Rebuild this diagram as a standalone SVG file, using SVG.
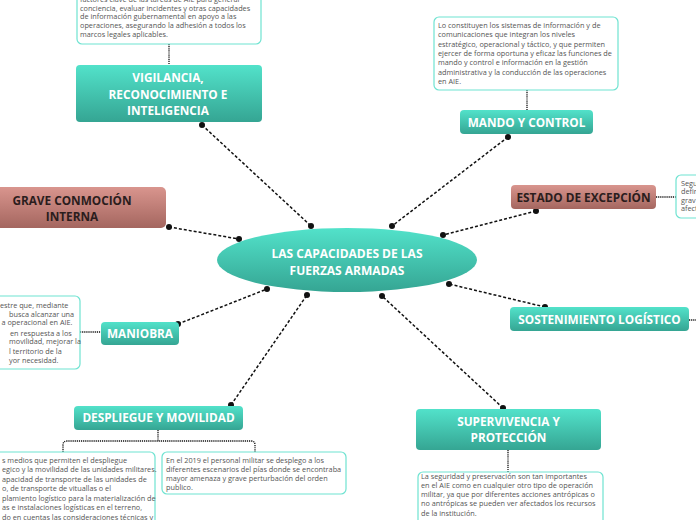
<svg xmlns="http://www.w3.org/2000/svg" width="696" height="520" viewBox="0 0 696 520">
<defs>
<linearGradient id="teal" x1="0" y1="0" x2="0" y2="1"><stop offset="0" stop-color="#52e2ca"/><stop offset="1" stop-color="#35a593"/></linearGradient>
<linearGradient id="red" x1="0" y1="0" x2="0" y2="1"><stop offset="0" stop-color="#d9958e"/><stop offset="1" stop-color="#a4665f"/></linearGradient>
</defs>
<style>
.t{fill:url(#teal)}
.r{fill:url(#red)}
.h{font-family:"Open Sans","Noto Sans",sans-serif;font-weight:bold;font-size:11.8px;fill:#fff;text-anchor:middle}
.hc{font-size:12px}
.hd{font-family:"Open Sans","Noto Sans",sans-serif;font-weight:bold;font-size:11.8px;fill:#2b1d1d;text-anchor:middle}
.box{fill:#fff;stroke:#6fe3d1;stroke-width:1.2}
.s{font-family:"Open Sans","Noto Sans",sans-serif;font-size:7.3px;fill:#555}
.c{fill:none;stroke:#111;stroke-width:1.5;stroke-dasharray:3 2}
.d{fill:none;stroke:#111;stroke-width:1.3;stroke-dasharray:1.2 0.9}
.dot{fill:#111}
</style>
<g id="connectors">
<path class="c" d="M202,125 L311,226"/>
<path class="c" d="M508,137 L392,226"/>
<path class="c" d="M536,211 L443,235"/>
<path class="c" d="M169,227 L239,239"/>
<path class="c" d="M178,324 L267,289"/>
<path class="c" d="M231,405 L307,295"/>
<path class="c" d="M503,408 L382,296"/>
<path class="c" d="M545,307 L449,284"/>
<g class="dot">
<circle cx="202" cy="125" r="3"/><circle cx="311" cy="226" r="3"/>
<circle cx="508" cy="137" r="3"/><circle cx="392" cy="226" r="3"/>
<circle cx="536" cy="211" r="3"/><circle cx="443" cy="235" r="3"/>
<circle cx="169" cy="227" r="3"/><circle cx="239" cy="239" r="3"/>
<circle cx="178" cy="324" r="3"/><circle cx="267" cy="289" r="3"/>
<circle cx="231" cy="405" r="3"/><circle cx="307" cy="295" r="3"/>
<circle cx="503" cy="408" r="3"/><circle cx="382" cy="296" r="3"/>
<circle cx="545" cy="307" r="3"/><circle cx="449" cy="284" r="3"/>
</g>
<path class="d" d="M169,44 V65"/>
<path class="d" d="M527,90 V110"/>
<path class="d" d="M656,197 H676"/>
<path class="d" d="M689,320 H696"/>
<path class="d" d="M80,332 H101"/>
<path class="d" d="M158,430 V441 M63,452 V445 Q63,441 67,441 H251 Q255,441 255,445 V452"/>
<path class="d" d="M508,450 V472"/>
</g>
<g id="center">
<ellipse class="t" cx="347" cy="260" rx="130" ry="32"/>
<text class="h hc" x="347" y="257.5">LAS CAPACIDADES DE LAS</text>
<text class="h hc" x="347" y="275">FUERZAS ARMADAS</text>
</g>
<g id="vigilancia">
<rect class="t" x="76" y="65" width="186" height="57" rx="4"/>
<text class="h" x="168" y="81.5">VIGILANCIA,</text>
<text class="h" x="168" y="98.5">RECONOCIMIENTO E</text>
<text class="h" x="168" y="115">INTELIGENCIA</text>
</g>
<g id="vigilancia-note">
<rect class="box" x="77" y="-10" width="184" height="54" rx="5"/>
<text class="s" x="80" y="2">factores clave de las tareas de AIE para generar</text>
<text class="s" x="80" y="10.8">conciencia, evaluar incidentes y otras capacidades</text>
<text class="s" x="80" y="19.4">de información gubernamental en apoyo a las</text>
<text class="s" x="80" y="28.2">operaciones, asegurando la adhesión a todos los</text>
<text class="s" x="80" y="36.9">marcos legales aplicables.</text>
</g>
<g id="mando">
<rect class="t" x="460" y="110" width="133" height="24" rx="4"/>
<text class="h" x="526.5" y="126.5">MANDO Y CONTROL</text>
</g>
<g id="mando-note">
<rect class="box" x="434" y="17" width="184" height="73" rx="5"/>
<text class="s" x="438" y="28">Lo constituyen los sistemas de información y de</text>
<text class="s" x="438" y="37.3">comunicaciones que integran los niveles</text>
<text class="s" x="438" y="46.7">estratégico, operacional y táctico, y que permiten</text>
<text class="s" x="438" y="56">ejercer de forma oportuna y eficaz las funciones de</text>
<text class="s" x="438" y="65.3">mando y control e información en la gestión</text>
<text class="s" x="438" y="74.7">administrativa y la conducción de las operaciones</text>
<text class="s" x="438" y="84">en AIE.</text>
</g>
<g id="estado">
<rect class="r" x="511" y="185" width="145" height="24" rx="4"/>
<text class="hd" x="583.5" y="201.5">ESTADO DE EXCEPCIÓN</text>
</g>
<g id="estado-note">
<rect class="box" x="676" y="175" width="60" height="43" rx="5"/>
<text class="s" x="681" y="185.5">Segu</text>
<text class="s" x="681" y="194">defir</text>
<text class="s" x="681" y="202.5">grav</text>
<text class="s" x="681" y="211">afect</text>
</g>
<g id="grave">
<rect class="r" x="-22" y="187" width="188" height="41" rx="5"/>
<text class="hd" x="72" y="205">GRAVE CONMOCIÓN</text>
<text class="hd" x="72" y="220.5">INTERNA</text>
</g>
<g id="sostenimiento">
<rect class="t" x="510" y="307" width="179" height="24" rx="4"/>
<text class="h" x="599.5" y="323.5">SOSTENIMIENTO LOGÍSTICO</text>
</g>
<g id="maniobra">
<rect class="t" x="101" y="322" width="78" height="23" rx="4"/>
<text class="h" x="140" y="338">MANIOBRA</text>
</g>
<g id="maniobra-note">
<rect class="box" x="-110" y="296" width="190" height="73" rx="5"/>
<text class="s" x="0" y="308">estre que, mediante</text>
<text class="s" x="9" y="316.7">busca alcanzar una</text>
<text class="s" x="1.5" y="325.3">a operacional en AIE.</text>
<text class="s" x="10" y="335.5">en respuesta a los</text>
<text class="s" x="9" y="344.3">movilidad, mejorar la</text>
<text class="s" x="9" y="353.6">l territorio de la</text>
<text class="s" x="9" y="363.2">yor necesidad.</text>
</g>
<g id="despliegue">
<rect class="t" x="74" y="406" width="169" height="24" rx="4"/>
<text class="h" x="158.5" y="422">DESPLIEGUE Y MOVILIDAD</text>
</g>
<g id="despliegue-note1">
<rect class="box" x="-29" y="452" width="184" height="80" rx="5"/>
<text class="s" x="2" y="462.5">s medios que permiten el despliegue</text>
<text class="s" x="2" y="472">egico y la movilidad de las unidades militares.</text>
<text class="s" x="2" y="481.5">apacidad de transporte de las unidades de</text>
<text class="s" x="2" y="491">o, de transporte de vituallas o el</text>
<text class="s" x="2" y="500.5">plamiento logístico para la materialización de</text>
<text class="s" x="2" y="510">as e instalaciones logísticas en el terreno,</text>
<text class="s" x="2" y="519.5">do en cuentas las consideraciones técnicas y</text>
</g>
<g id="despliegue-note2">
<rect class="box" x="162" y="452" width="184" height="42" rx="5"/>
<text class="s" x="166" y="462.5">En el 2019 el personal militar se desplego a los</text>
<text class="s" x="166" y="471.7">diferentes escenarios del pías donde se encontraba</text>
<text class="s" x="166" y="481">mayor amenaza y grave perturbación del orden</text>
<text class="s" x="166" y="490.2">publico.</text>
</g>
<g id="supervivencia">
<rect class="t" x="416" y="409" width="185" height="41" rx="4"/>
<text class="h" x="508.5" y="426">SUPERVIVENCIA Y</text>
<text class="h" x="508.5" y="442">PROTECCIÓN</text>
</g>
<g id="supervivencia-note">
<rect class="box" x="418" y="472" width="185" height="60" rx="5"/>
<text class="s" x="421" y="478.5">La seguridad y preservación son tan importantes</text>
<text class="s" x="421" y="488">en el AIE como en cualquier otro tipo de operación</text>
<text class="s" x="421" y="497.2">militar, ya que por diferentes acciones antrópicas o</text>
<text class="s" x="421" y="506.4">no antrópicas se pueden ver afectados los recursos</text>
<text class="s" x="421" y="515.6">de la institución.</text>
</g>
</svg>
